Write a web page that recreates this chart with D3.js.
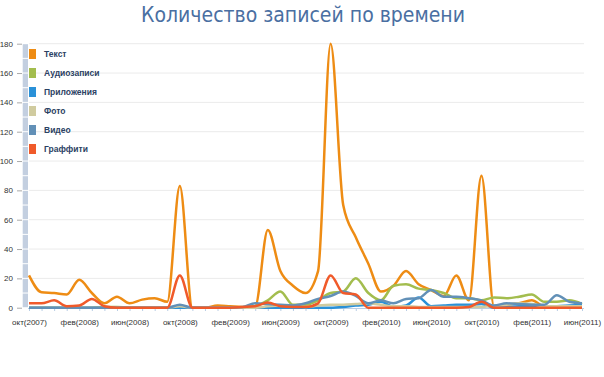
<!DOCTYPE html>
<html>
<head>
<meta charset="utf-8">
<script src="https://cdnjs.cloudflare.com/ajax/libs/d3/7.8.5/d3.min.js"></script>
<style>
  body { margin: 0; background: #fff; }
  svg { display: block; }
  .vs-axis text { font-family: "Liberation Sans", Arial, sans-serif; font-size: 8px; fill: #333; }
</style>
</head>
<body>
<div id="vs-chart"></div>
<script>
// months from oct 2007 to jun 2011
var months = ["янв","фев","мар","апр","май","июн","июл","авг","сен","окт","ноя","дек"];
var month_labels = [];
for (var i = 0; i < 45; i++) {
  var m = (9 + i) % 12;
  var yr = 2007 + Math.floor((9 + i) / 12);
  month_labels.push(months[m] + "(" + yr + ")");
}

var series_names = ["Текст", "Аудиозаписи", "Приложения", "Фото", "Видео", "Граффити"];
var series_colors = ["#ee8c14", "#a3bd4e", "#2a91d8", "#d0cb9f", "#6290b7", "#f05a2a"];

var tekst = [22,10.5,10,9,19,10,3,7.5,3,5.5,6.5,4,83,0,0,1.5,1,0.5,1,53,25,15,10,25,180,70,48,30,11,15,25,16,12,8,22,5,90,1,2,3,5,1,1,1,1];
var audio = [0,0,0,0,0,0,0.5,0.5,0,0,0,0,0,0,0,0,0,0,1,5,11,2,2,5,10,11,20,10,5,15,16,13,12,10,6.5,6.5,5,7,6.5,7.5,9,4,4,5,2.5];
var prilozh = [0,0,0,0,0,0,0,0,0,0,0,0,0,0,0,0,0,0,0,0,0,0,0,0,0,0.5,1.5,2,4,0.5,1.5,7,1,1.5,2,2,2.5,0,0.5,1,1,1,1,1.5,2];
var foto = [0,0,0,0,0,0,0,0,0,0,0,0,1,0,0,0,0,0,0,1,1.5,1,0.5,1.5,2,2,2.5,3,2,1,1,0.5,0.5,0.5,0.5,0.5,0.5,1.5,2,3,2.5,1,1,1,1];
var video = [0,0,0,0,0,0,0,0,0,0,0,0,2,0,0,0,0,0.5,3,2.5,2,1.5,3,6,8,11,8,3,5,3,6,6.5,12,7.5,7.5,6.5,5,1.5,3,2.5,2,2,8.5,4,3];
var graffiti = [3,3,5,1,1.5,6,1,0,0,0,0,0,22,0,0,0,0,0.5,1,3.5,1,0.5,0.5,3,22,10,9,0,0,0,0,0,0,0,0,0.5,4,0,0,0,0,0,0,0,0];

var y_ticks = [0,20,40,60,80,100,120,140,160,180];

var all_series = [tekst, audio, prilozh, foto, video, graffiti];

var width = 604, height = 377;
var svg = d3.select("#vs-chart").append("svg")
    .attr("width", width)
    .attr("height", height);

var x = d3.scalePoint().domain(month_labels).range([29, 582]);
var y = d3.scaleLinear().domain([0, 180]).range([307.7, 43.7]);

// title
svg.append("text")
    .attr("x", 303)
    .attr("y", 22)
    .attr("text-anchor", "middle")
    .style("font-family", "'DejaVu Sans Condensed', 'DejaVu Sans', sans-serif")
    .style("font-size", "21px")
    .style("fill", "#4a6fa2")
    .text("Количество записей по времени");

// grid lines
svg.append("g").selectAll("line")
    .data(y_ticks.slice(1))
    .enter().append("line")
      .attr("x1", 29).attr("x2", 584)
      .attr("y1", function(d) { return y(d); })
      .attr("y2", function(d) { return y(d); })
      .attr("stroke", "#ebebeb")
      .attr("stroke-width", 1);

// y axis
var y_axis = svg.append("g")
    .attr("class", "vs-axis")
    .attr("transform", "translate(22,0)")
    .call(d3.axisLeft(y).tickValues(y_ticks).tickSize(5).tickPadding(4));
y_axis.select(".domain").remove();
y_axis.selectAll(".tick line").attr("stroke", "#aaa");

// segmented bar next to the y axis
var seg = d3.range(0, 180, 10);
svg.append("g").selectAll("rect")
    .data(seg)
    .enter().append("rect")
      .attr("x", 22.7)
      .attr("width", 5.3)
      .attr("y", function(d) { return y(d + 10) + 0.5; })
      .attr("height", function(d) { return y(d) - y(d + 10) - 1; })
      .attr("fill", "#c3cfe0");

// x axis
var x_axis = svg.append("g")
    .attr("class", "vs-axis")
    .attr("transform", "translate(0,308)")
    .call(d3.axisBottom(x).tickSize(3).tickPadding(8)
      .tickFormat(function(d, i) { return i % 4 === 0 ? d : ""; }));
x_axis.select(".domain").attr("stroke", "#b9cde4").attr("d", "M28,0.5H584");
x_axis.selectAll(".tick line").attr("stroke", "#b9cde4");

// lines
var line = d3.line()
    .x(function(d, i) { return x(month_labels[i]); })
    .y(function(d) { return y(d); })
    .curve(d3.curveMonotoneX);

svg.append("g").selectAll("path")
    .data(all_series)
    .enter().append("path")
      .attr("d", line)
      .attr("fill", "none")
      .attr("stroke", function(d, i) { return series_colors[i]; })
      .attr("stroke-width", 2.5)
      .attr("stroke-linejoin", "round");

// legend
var legend = svg.append("g").selectAll("g")
    .data(series_names)
    .enter().append("g")
      .attr("transform", function(d, i) { return "translate(29," + (54 + i * 19) + ")"; });

legend.append("rect")
    .attr("x", 0).attr("y", -5)
    .attr("width", 7).attr("height", 10)
    .attr("fill", function(d, i) { return series_colors[i]; });

legend.append("text")
    .attr("x", 15)
    .attr("y", 3)
    .style("font-family", "'Liberation Sans', Arial, sans-serif")
    .style("font-size", "8.5px")
    .style("font-weight", "bold")
    .style("fill", "#2b4163")
    .text(function(d) { return d; });
</script>
</body>
</html>
